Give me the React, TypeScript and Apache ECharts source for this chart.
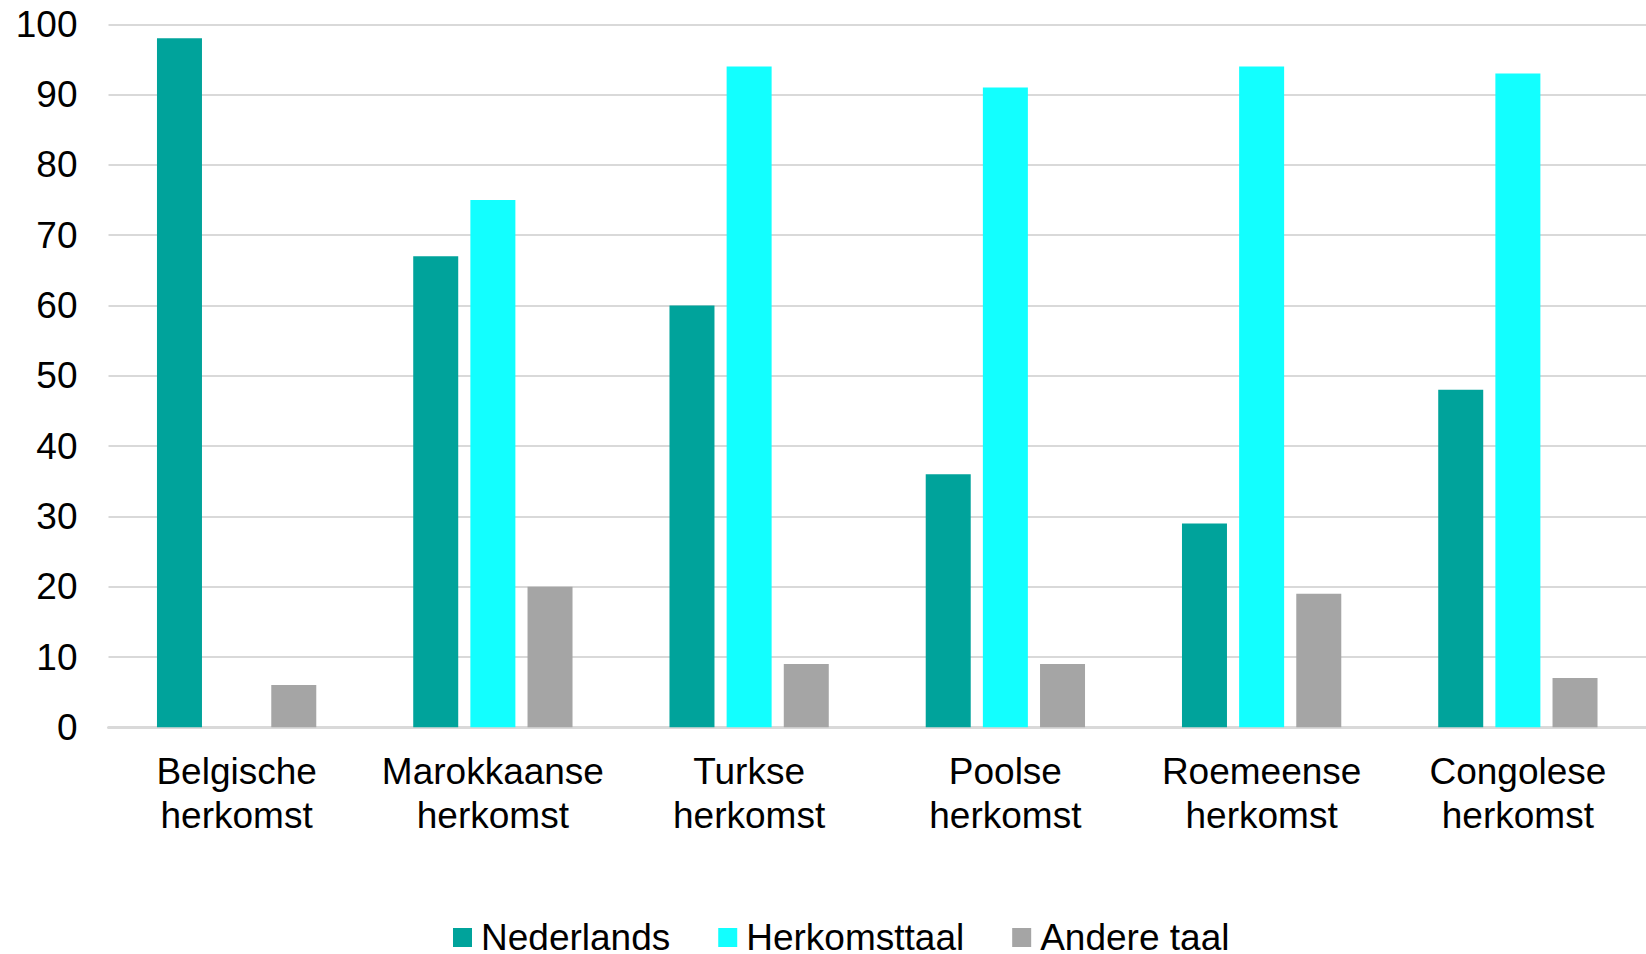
import React, { useEffect, useRef } from "react";
import * as echarts from "echarts";

const categories = [
  "Belgische\nherkomst",
  "Marokkaanse\nherkomst",
  "Turkse\nherkomst",
  "Poolse\nherkomst",
  "Roemeense\nherkomst",
  "Congolese\nherkomst",
];
const nederlands = [98, 67, 60, 36, 29, 48];
const herkomsttaal = [0, 75, 94, 91, 94, 93];
const andereTaal = [6, 20, 9, 9, 19, 7];
const seriesNames = ["Nederlands", "Herkomsttaal", "Andere taal"];
const colors = ["#00A39B", "#12FFFF", "#A5A5A5"];

const FONT = "'Liberation Sans', Arial, Helvetica, sans-serif";

export default function App() {
  const ref = useRef<HTMLDivElement>(null);
  useEffect(() => {
    if (!ref.current) return;
    const chart = echarts.init(ref.current, undefined, { renderer: "svg" });
    const data = [nederlands, herkomsttaal, andereTaal];
    chart.setOption({
      animation: false,
      backgroundColor: "#ffffff",
      textStyle: { fontFamily: FONT },
      grid: { left: 108.5, width: 1544, top: 24.3, bottom: 226.7, containLabel: false },
      legend: {
        data: seriesNames,
        left: 448,
        top: 914,
        itemWidth: 19,
        itemHeight: 19,
        itemGap: 48,
        icon: "rect",
        textStyle: { fontSize: 37, color: "#000", fontFamily: FONT, padding: [0, 0, 0, 4] },
      },
      xAxis: {
        type: "category",
        data: categories,
        axisLine: { show: true, lineStyle: { color: "#D9D9D9", width: 3 } },
        axisTick: { show: false },
        axisLabel: {
          fontSize: 37,
          color: "#000",
          lineHeight: 44,
          margin: 22,
          fontFamily: FONT,
          interval: 0,
        },
      },
      yAxis: {
        type: "value",
        min: 0,
        max: 100,
        interval: 10,
        axisLine: { show: false },
        axisTick: { show: false },
        splitLine: { lineStyle: { color: "#D9D9D9", width: 2 } },
        axisLabel: { fontSize: 37, color: "#000", margin: 31, fontFamily: FONT },
      },
      series: seriesNames.map((name, i) => ({
        name,
        type: "bar",
        data: data[i],
        barWidth: 45,
        barGap: "27%",
        itemStyle: { color: colors[i] },
      })),
    });
    return () => chart.dispose();
  }, []);
  return (
    <div
      ref={ref}
      style={{ position: "fixed", left: 0, top: 0, width: 1646, height: 954 }}
    />
  );
}
